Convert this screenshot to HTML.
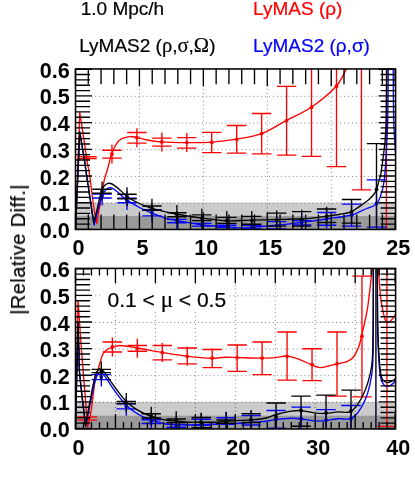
<!DOCTYPE html>
<html><head><meta charset="utf-8"><title>chart</title>
<style>
html,body{margin:0;padding:0;background:#fff;}
svg{display:block;}
text{font-family:"Liberation Sans",sans-serif;fill:#000;}
.ax{font-size:21.6px;font-weight:bold;}
.lg{font-size:19px;stroke:#000;stroke-width:0.22px;}
.sy{font-family:"Liberation Serif",serif;font-size:20.6px;}
.yl{font-size:20px;letter-spacing:0.45px;stroke:#000;stroke-width:0.22px;}
</style></head><body>
<svg width="415" height="480" viewBox="0 0 415 480">
<rect width="415" height="480" fill="#fff"/>
<clipPath id="c1"><rect x="75.50" y="68.95" width="320.10" height="160.50"/></clipPath><rect x="75.50" y="202.70" width="320.10" height="26.75" fill="#cbcbcb"/><rect x="75.50" y="216.10" width="320.10" height="13.35" fill="#9a9a9a"/><path d="M139.43 69.20 V229.40 M203.36 69.20 V229.40 M267.29 69.20 V229.40 M331.22 69.20 V229.40 M75.50 203.10 H395.15 M75.50 176.40 H395.15 M75.50 149.70 H395.15 M75.50 123.00 H395.15 M75.50 96.30 H395.15" stroke="#000" stroke-width="0.75" stroke-dasharray="0.9 3.05" fill="none" opacity="0.7"/>
<g clip-path="url(#c1)">
<path d="M75.50 229.60 C76.92 190.57 78.33 151.54 79.75 112.51 C80.33 116.18 80.94 119.86 81.50 123.54 C83.56 137.15 85.44 150.79 87.60 164.39 C87.94 166.50 88.69 168.54 89.00 170.65 C90.83 183.32 92.13 196.08 94.00 208.75 C94.73 213.69 95.87 218.57 96.80 223.48 C97.53 219.24 98.27 215.00 99.00 210.75 C100.80 200.31 102.30 189.80 104.40 179.42 C105.00 176.43 106.26 173.59 107.10 170.65 C108.76 164.82 109.88 158.80 111.90 153.11 C113.15 149.61 114.81 146.10 116.90 143.08 C118.14 141.29 119.96 139.64 121.90 138.67 C124.33 137.46 127.27 136.79 130.00 136.57 C132.27 136.39 134.63 137.01 136.90 137.47 C140.26 138.15 143.52 139.36 146.90 139.98 C151.64 140.83 156.44 141.57 161.25 141.88 C169.72 142.44 178.25 142.55 186.75 142.58 C195.08 142.62 203.45 142.67 211.75 142.08 C220.03 141.50 228.32 140.48 236.50 139.07 C244.90 137.63 253.58 136.51 261.50 133.56 C270.16 130.33 278.01 124.89 286.25 120.53 C294.59 116.12 303.51 112.56 311.25 107.24 C320.18 101.11 328.95 94.09 336.25 86.19 C340.62 81.47 343.13 75.11 346.25 69.40 C348.38 65.50 350.08 61.38 352.00 57.37" stroke="#f00" stroke-width="1.35" fill="none" stroke-linejoin="round"/>
<path d="M77.30 156.62 H96.70 M77.30 158.52 H96.70 M111.95 144.51 V163.51 M102.25 150.20 H121.65 M102.25 158.12 H121.65 M136.90 128.17 V147.17 M127.20 132.46 H146.60 M127.20 143.08 H146.60 M161.85 132.38 V151.38 M152.15 138.07 H171.55 M152.15 146.09 H171.55 M186.80 133.08 V152.08 M177.10 137.57 H196.50 M177.10 148.10 H196.50 M211.75 132.31 V152.61 M202.05 132.31 H221.45 M202.05 152.61 H221.45 M236.70 125.54 V153.11 M227.00 125.54 H246.40 M227.00 153.11 H246.40 M261.65 113.51 V153.86 M251.95 113.51 H271.35 M251.95 153.86 H271.35 M286.60 86.44 V155.11 M276.90 86.44 H296.30 M276.90 155.11 H296.30 M311.55 30.30 V156.37 M301.85 30.30 H321.25 M301.85 156.37 H321.25 M336.50 20.28 V166.64 M326.80 20.28 H346.20 M326.80 166.64 H346.20 M361.45 -49.90 V189.80 M351.75 -49.90 H371.15 M351.75 189.80 H371.15 M386.40 -100.02 V401.23 M376.70 -100.02 H396.10 M376.70 401.23 H396.10" stroke="#f00" stroke-width="1.35" fill="none"/><circle cx="87.00" cy="157.52" r="1.9" fill="#f00"/><circle cx="111.95" cy="154.01" r="1.9" fill="#f00"/><circle cx="136.90" cy="137.67" r="1.9" fill="#f00"/><circle cx="161.85" cy="141.88" r="1.9" fill="#f00"/><circle cx="186.80" cy="142.58" r="1.9" fill="#f00"/><circle cx="211.75" cy="142.33" r="1.9" fill="#f00"/><circle cx="236.70" cy="139.32" r="1.9" fill="#f00"/><circle cx="261.65" cy="133.56" r="1.9" fill="#f00"/><circle cx="286.60" cy="120.53" r="1.9" fill="#f00"/><circle cx="311.55" cy="107.24" r="1.9" fill="#f00"/><circle cx="336.50" cy="86.19" r="1.9" fill="#f00"/><circle cx="361.45" cy="50.35" r="1.9" fill="#f00"/><circle cx="386.40" cy="20.28" r="1.9" fill="#f00"/>
<path d="M75.50 229.60 C76.92 197.00 78.33 164.40 79.75 131.81 C81.53 142.67 83.38 153.52 85.10 164.39 C85.43 166.47 85.59 168.57 85.90 170.65 C88.59 188.80 91.37 206.94 94.10 225.09 C95.23 220.64 96.31 216.18 97.50 211.76 C98.94 206.39 100.02 200.84 102.00 195.72 C102.86 193.49 104.33 191.32 106.00 189.70 C107.08 188.65 108.85 187.56 110.25 187.70 C112.18 187.89 114.26 189.44 116.00 190.70 C118.85 192.78 121.32 195.40 124.00 197.72 C125.07 198.64 126.06 199.68 127.25 200.43 C131.39 203.02 135.65 205.50 140.00 207.75 C143.80 209.71 147.74 211.42 151.70 213.06 C156.08 214.87 160.47 216.73 165.00 218.07 C168.91 219.23 172.98 219.84 177.00 220.58 C185.32 222.11 193.62 223.85 202.00 224.89 C210.28 225.92 218.68 226.01 227.00 226.79 C229.68 227.05 232.31 227.94 235.00 228.00 C240.65 228.11 246.34 227.66 252.00 227.29 C260.24 226.76 268.48 226.12 276.70 225.29 C285.05 224.45 293.37 223.28 301.70 222.28 C305.13 221.87 308.57 221.54 312.00 221.08 C316.84 220.43 321.67 219.69 326.50 218.97 C334.67 217.76 342.89 216.72 351.00 215.26 C352.39 215.02 353.70 214.41 355.00 213.86 C359.20 212.07 363.31 210.06 367.50 208.25 C369.56 207.35 371.82 206.83 373.75 205.74 C375.15 204.96 376.61 203.94 377.50 202.63 C378.89 200.60 379.75 198.09 380.60 195.72 C381.62 192.86 382.49 189.91 383.10 186.94 C383.87 183.23 384.43 179.45 384.75 175.67 C385.60 165.66 386.06 155.62 386.60 145.59 C387.05 137.24 387.52 128.89 387.70 120.53 C388.07 103.49 388.10 86.44 388.25 69.40 C388.33 59.71 388.35 50.02 388.40 40.33" stroke="#00f" stroke-width="1.35" fill="none" stroke-linejoin="round"/>
<path d="M392.80 40.33 C392.93 50.02 393.09 59.71 393.20 69.40 C393.40 86.44 393.35 103.49 393.75 120.53 C393.95 128.89 394.53 137.24 395.00 145.59 C395.28 150.61 395.67 155.62 396.00 160.63" stroke="#00f" stroke-width="1.35" fill="none" stroke-linejoin="round"/>
<path d="M102.05 186.52 V205.52 M92.35 194.01 H111.75 M92.35 197.97 H111.75 M127.00 190.93 V209.93 M117.30 198.22 H136.70 M117.30 202.73 H136.70 M151.95 203.26 V222.26 M142.25 209.75 H161.65 M142.25 215.87 H161.65 M176.90 211.28 V230.28 M167.20 219.37 H186.60 M167.20 222.78 H186.60 M201.85 215.29 V234.29 M192.15 223.38 H211.55 M192.15 226.19 H211.55 M226.80 216.89 V235.89 M217.10 225.29 H236.50 M217.10 227.49 H236.50 M251.75 217.69 V236.69 M242.05 225.39 H261.45 M242.05 229.00 H261.45 M276.70 215.79 V234.79 M267.00 221.58 H286.40 M267.00 229.00 H286.40 M301.65 213.28 V232.28 M291.95 220.58 H311.35 M291.95 224.99 H311.35 M326.60 209.37 V228.37 M316.90 212.51 H336.30 M316.90 225.29 H336.30 M351.55 204.14 V226.19 M341.85 204.14 H361.25 M341.85 226.19 H361.25 M376.50 179.88 V227.09 M366.80 179.88 H386.20 M366.80 227.09 H386.20" stroke="#00f" stroke-width="1.35" fill="none"/><circle cx="102.05" cy="196.02" r="1.9" fill="#00f"/><circle cx="127.00" cy="200.43" r="1.9" fill="#00f"/><circle cx="151.95" cy="212.76" r="1.9" fill="#00f"/><circle cx="176.90" cy="220.78" r="1.9" fill="#00f"/><circle cx="201.85" cy="224.79" r="1.9" fill="#00f"/><circle cx="226.80" cy="226.39" r="1.9" fill="#00f"/><circle cx="251.75" cy="227.19" r="1.9" fill="#00f"/><circle cx="276.70" cy="225.29" r="1.9" fill="#00f"/><circle cx="301.65" cy="222.78" r="1.9" fill="#00f"/><circle cx="326.60" cy="218.87" r="1.9" fill="#00f"/><circle cx="351.55" cy="215.16" r="1.9" fill="#00f"/><circle cx="376.50" cy="203.33" r="1.9" fill="#00f"/>
<path d="M75.50 229.60 C76.92 197.00 78.33 164.40 79.75 131.81 C81.53 142.67 83.38 153.52 85.10 164.39 C85.43 166.47 85.59 168.57 85.90 170.65 C88.46 188.04 91.10 205.41 93.70 222.78 C94.80 218.44 95.92 214.10 97.00 209.75 C98.68 202.99 99.79 195.96 102.00 189.45 C102.62 187.61 104.04 185.88 105.50 184.69 C106.54 183.83 108.20 183.12 109.50 183.28 C111.37 183.52 113.37 184.72 115.00 185.89 C118.20 188.19 121.06 191.04 124.00 193.71 C125.14 194.75 125.95 196.21 127.25 197.02 C131.28 199.55 135.65 201.72 140.00 203.74 C143.80 205.50 147.68 207.20 151.70 208.35 C160.01 210.71 168.50 212.62 177.00 214.26 C185.27 215.86 193.64 216.98 202.00 218.07 C210.31 219.15 218.64 220.44 227.00 220.78 C235.31 221.11 243.67 220.26 252.00 220.08 C260.23 219.89 268.47 219.89 276.70 219.68 C285.04 219.46 293.37 219.15 301.70 218.77 C305.14 218.62 308.58 218.42 312.00 218.07 C316.84 217.58 321.67 216.92 326.50 216.27 C331.01 215.65 335.52 215.04 340.00 214.26 C343.69 213.62 347.48 213.12 351.00 212.01 C352.48 211.54 353.70 210.39 355.00 209.50 C359.20 206.63 363.54 203.90 367.50 200.73 C369.79 198.89 371.93 196.75 373.75 194.46 C374.93 192.99 375.83 191.22 376.50 189.45 C377.72 186.21 378.41 182.76 379.40 179.42 C379.77 178.16 380.40 176.96 380.60 175.67 C382.20 165.02 383.73 154.31 384.80 143.59 C385.56 135.93 385.89 128.22 386.10 120.53 C386.56 103.49 386.63 86.44 386.80 69.40 C386.90 59.71 386.87 50.02 386.90 40.33" stroke="#000" stroke-width="1.35" fill="none" stroke-linejoin="round"/>
<path d="M102.05 181.60 V200.60 M92.35 189.20 H111.75 M92.35 193.21 H111.75 M127.00 187.22 V206.22 M117.30 194.21 H136.70 M117.30 198.72 H136.70 M151.95 198.75 V217.75 M142.25 206.04 H161.65 M142.25 210.25 H161.65 M176.90 204.96 V223.96 M167.20 212.76 H186.60 M167.20 216.77 H186.60 M201.85 208.67 V227.67 M192.15 214.86 H211.55 M192.15 220.58 H211.55 M226.80 211.08 V230.08 M217.10 217.37 H236.50 M217.10 223.38 H236.50 M251.75 211.08 V230.08 M242.05 216.37 H261.45 M242.05 224.29 H261.45 M276.70 210.48 V229.48 M267.00 213.16 H286.40 M267.00 226.19 H286.40 M301.65 209.77 V228.77 M291.95 211.66 H311.35 M291.95 226.19 H311.35 M326.60 206.77 V225.77 M316.90 209.00 H336.30 M316.90 222.53 H336.30 M351.55 199.47 V223.18 M341.85 199.47 H361.25 M341.85 223.18 H361.25 M376.50 143.59 V260.88 M366.80 143.59 H386.20 M366.80 260.88 H386.20" stroke="#000" stroke-width="1.35" fill="none"/><circle cx="102.05" cy="191.10" r="1.9" fill="#000"/><circle cx="127.00" cy="196.72" r="1.9" fill="#000"/><circle cx="151.95" cy="208.25" r="1.9" fill="#000"/><circle cx="176.90" cy="214.46" r="1.9" fill="#000"/><circle cx="201.85" cy="218.17" r="1.9" fill="#000"/><circle cx="226.80" cy="220.58" r="1.9" fill="#000"/><circle cx="251.75" cy="220.58" r="1.9" fill="#000"/><circle cx="276.70" cy="219.98" r="1.9" fill="#000"/><circle cx="301.65" cy="219.27" r="1.9" fill="#000"/><circle cx="326.60" cy="216.27" r="1.9" fill="#000"/><circle cx="351.55" cy="212.01" r="1.9" fill="#000"/><circle cx="376.50" cy="189.45" r="1.9" fill="#000"/>
</g>
<path d="M75.50 229.45 V212.40 M75.50 68.95 V86.20 M88.29 229.45 V214.40 M88.29 68.95 V84.20 M101.07 229.45 V214.40 M101.07 68.95 V84.20 M113.86 229.45 V214.40 M113.86 68.95 V84.20 M126.64 229.45 V214.40 M126.64 68.95 V84.20 M139.43 229.45 V212.40 M139.43 68.95 V86.20 M152.22 229.45 V214.40 M152.22 68.95 V84.20 M165.00 229.45 V214.40 M165.00 68.95 V84.20 M177.79 229.45 V214.40 M177.79 68.95 V84.20 M190.57 229.45 V214.40 M190.57 68.95 V84.20 M203.36 229.45 V212.40 M203.36 68.95 V86.20 M216.15 229.45 V214.40 M216.15 68.95 V84.20 M228.93 229.45 V214.40 M228.93 68.95 V84.20 M241.72 229.45 V214.40 M241.72 68.95 V84.20 M254.50 229.45 V214.40 M254.50 68.95 V84.20 M267.29 229.45 V212.40 M267.29 68.95 V86.20 M280.08 229.45 V214.40 M280.08 68.95 V84.20 M292.86 229.45 V214.40 M292.86 68.95 V84.20 M305.65 229.45 V214.40 M305.65 68.95 V84.20 M318.43 229.45 V214.40 M318.43 68.95 V84.20 M331.22 229.45 V212.40 M331.22 68.95 V86.20 M344.01 229.45 V214.40 M344.01 68.95 V84.20 M356.79 229.45 V214.40 M356.79 68.95 V84.20 M369.58 229.45 V214.40 M369.58 68.95 V84.20 M382.36 229.45 V214.40 M382.36 68.95 V84.20 M395.15 229.45 V212.40 M395.15 68.95 V86.20" stroke="#000" stroke-width="1.35" fill="none"/><path d="M75.50 229.40 H92.00 M395.60 229.40 H378.65 M75.50 224.06 H90.10 M395.60 224.06 H380.55 M75.50 218.72 H90.10 M395.60 218.72 H380.55 M75.50 213.38 H90.10 M395.60 213.38 H380.55 M75.50 208.04 H90.10 M395.60 208.04 H380.55 M75.50 202.70 H92.00 M395.60 202.70 H378.65 M75.50 197.36 H90.10 M395.60 197.36 H380.55 M75.50 192.02 H90.10 M395.60 192.02 H380.55 M75.50 186.68 H90.10 M395.60 186.68 H380.55 M75.50 181.34 H90.10 M395.60 181.34 H380.55 M75.50 176.00 H92.00 M395.60 176.00 H378.65 M75.50 170.66 H90.10 M395.60 170.66 H380.55 M75.50 165.32 H90.10 M395.60 165.32 H380.55 M75.50 159.98 H90.10 M395.60 159.98 H380.55 M75.50 154.64 H90.10 M395.60 154.64 H380.55 M75.50 149.30 H92.00 M395.60 149.30 H378.65 M75.50 143.96 H90.10 M395.60 143.96 H380.55 M75.50 138.62 H90.10 M395.60 138.62 H380.55 M75.50 133.28 H90.10 M395.60 133.28 H380.55 M75.50 127.94 H90.10 M395.60 127.94 H380.55 M75.50 122.60 H92.00 M395.60 122.60 H378.65 M75.50 117.26 H90.10 M395.60 117.26 H380.55 M75.50 111.92 H90.10 M395.60 111.92 H380.55 M75.50 106.58 H90.10 M395.60 106.58 H380.55 M75.50 101.24 H90.10 M395.60 101.24 H380.55 M75.50 95.90 H92.00 M395.60 95.90 H378.65 M75.50 90.56 H90.10 M395.60 90.56 H380.55 M75.50 85.22 H90.10 M395.60 85.22 H380.55 M75.50 79.88 H90.10 M395.60 79.88 H380.55 M75.50 74.54 H90.10 M395.60 74.54 H380.55 M75.50 69.20 H92.00 M395.60 69.20 H378.65" stroke="#000" stroke-width="1.35" fill="none"/><rect x="75.50" y="68.95" width="320.10" height="160.50" fill="none" stroke="#000" stroke-width="1.55"/>
<clipPath id="c2"><rect x="75.50" y="268.40" width="320.10" height="160.55"/></clipPath><rect x="75.50" y="401.88" width="320.10" height="27.07" fill="#cbcbcb"/><rect x="75.50" y="415.69" width="320.10" height="13.26" fill="#9a9a9a"/><path d="M115.46 268.80 V428.50 M155.41 268.80 V428.50 M195.37 268.80 V428.50 M235.32 268.80 V428.50 M275.28 268.80 V428.50 M315.24 268.80 V428.50 M355.19 268.80 V428.50 M75.50 402.28 H395.15 M75.50 375.67 H395.15 M75.50 349.05 H395.15 M75.50 322.43 H395.15 M75.50 295.82 H395.15" stroke="#000" stroke-width="0.75" stroke-dasharray="0.9 3.05" fill="none" opacity="0.7"/>
<rect x="101" y="285" width="128" height="26" fill="#fff"/>
<g clip-path="url(#c2)">
<path d="M75.50 428.55 C76.33 385.86 77.17 343.18 78.00 300.49 C79.13 316.58 80.22 332.68 81.40 348.78 C81.97 356.55 82.64 364.32 83.25 372.09 C84.70 390.48 86.15 408.86 87.60 427.25 C88.65 422.65 90.00 418.11 90.75 413.46 C92.47 402.73 93.32 391.84 95.00 381.12 C95.40 378.56 96.28 376.09 97.00 373.60 C98.78 367.40 100.12 360.94 102.50 355.04 C103.29 353.09 104.91 351.39 106.50 350.03 C107.83 348.89 109.57 348.08 111.25 347.52 C114.07 346.58 117.05 345.46 120.00 345.52 C125.80 345.63 131.69 347.06 137.50 348.02 C145.85 349.40 154.15 351.15 162.50 352.54 C170.81 353.91 179.13 355.33 187.50 356.30 C195.63 357.24 203.83 358.04 212.00 358.25 C216.33 358.36 220.66 357.37 225.00 357.25 C228.99 357.14 233.00 357.46 237.00 357.55 C245.33 357.73 253.67 358.05 262.00 358.05 C266.33 358.05 270.68 357.90 275.00 357.55 C279.01 357.23 283.06 355.73 287.00 356.05 C291.39 356.40 295.79 358.04 300.00 359.56 C304.13 361.05 307.92 363.44 312.00 365.07 C314.59 366.11 317.29 367.50 320.00 367.58 C323.29 367.67 326.68 366.31 330.00 365.57 C332.35 365.05 334.66 364.37 337.00 363.82 C340.33 363.03 343.87 362.79 347.00 361.56 C349.20 360.70 351.52 359.36 353.00 357.55 C355.35 354.68 357.10 351.04 358.50 347.52 C359.93 343.93 360.62 340.03 361.50 336.24 C363.54 327.49 365.76 318.76 367.25 309.92 C368.93 299.96 369.77 289.86 371.00 279.83 C371.45 276.16 371.99 272.49 372.30 268.80 C372.83 262.46 373.10 256.10 373.50 249.75" stroke="#f00" stroke-width="1.35" fill="none" stroke-linejoin="round"/>
<path d="M377.90 249.75 C378.10 256.18 378.15 262.62 378.50 269.05 C378.98 277.92 379.47 286.80 380.40 295.63 C380.94 300.76 381.90 305.86 382.90 310.92 C383.43 313.63 384.09 316.35 385.00 318.94 C385.45 320.23 386.06 322.08 387.00 322.55 C387.73 322.92 389.19 322.09 390.00 321.45 C391.35 320.38 392.45 318.86 393.50 317.44 C394.79 315.69 395.83 313.76 397.00 311.92" stroke="#f00" stroke-width="1.35" fill="none" stroke-linejoin="round"/>
<path d="M77.70 416.82 H97.10 M77.70 420.13 H97.10 M112.36 337.52 V356.52 M102.66 342.01 H122.06 M102.66 352.03 H122.06 M137.32 338.82 V357.82 M127.62 345.52 H147.02 M127.62 351.28 H147.02 M162.28 343.04 V362.04 M152.58 345.52 H171.98 M152.58 359.81 H171.98 M187.24 346.80 V365.80 M177.54 348.02 H196.94 M177.54 363.82 H196.94 M212.20 348.55 V367.58 M202.50 349.53 H221.90 M202.50 367.58 H221.90 M237.16 345.01 V371.34 M227.46 345.01 H246.86 M227.46 371.34 H246.86 M262.12 342.01 V374.60 M252.42 342.01 H271.82 M252.42 374.60 H271.82 M287.08 331.98 V380.11 M277.38 331.98 H296.78 M277.38 380.11 H296.78 M312.04 348.78 V380.61 M302.34 348.78 H321.74 M302.34 380.61 H321.74 M337.00 331.98 V396.16 M327.30 331.98 H346.70 M327.30 396.16 H346.70 M361.96 276.12 V396.81 M352.26 276.12 H371.66 M352.26 396.81 H371.66 M386.92 199.60 V426.44 M377.22 199.60 H396.62 M377.22 426.44 H396.62" stroke="#f00" stroke-width="1.35" fill="none"/><circle cx="87.40" cy="418.47" r="1.9" fill="#f00"/><circle cx="112.36" cy="347.02" r="1.9" fill="#f00"/><circle cx="137.32" cy="348.32" r="1.9" fill="#f00"/><circle cx="162.28" cy="352.54" r="1.9" fill="#f00"/><circle cx="187.24" cy="356.30" r="1.9" fill="#f00"/><circle cx="212.20" cy="358.05" r="1.9" fill="#f00"/><circle cx="237.16" cy="357.55" r="1.9" fill="#f00"/><circle cx="262.12" cy="358.05" r="1.9" fill="#f00"/><circle cx="287.08" cy="356.30" r="1.9" fill="#f00"/><circle cx="312.04" cy="364.57" r="1.9" fill="#f00"/><circle cx="337.00" cy="363.82" r="1.9" fill="#f00"/><circle cx="361.96" cy="336.24" r="1.9" fill="#f00"/><circle cx="386.92" cy="229.69" r="1.9" fill="#f00"/>
<path d="M75.50 428.55 C76.33 393.35 77.17 358.15 78.00 322.95 C78.30 331.56 78.64 340.17 78.90 348.78 C79.14 356.55 78.82 364.35 79.50 372.09 C81.09 390.24 83.63 408.33 85.70 426.44 C87.43 417.69 89.09 408.91 90.90 400.17 C92.29 393.47 93.51 386.69 95.30 380.11 C95.88 378.00 96.80 375.83 98.00 374.10 C98.53 373.33 99.69 372.46 100.50 372.59 C101.69 372.79 103.11 373.99 104.00 375.10 C107.11 379.00 109.50 383.58 112.50 387.63 C116.92 393.61 121.05 399.97 126.25 405.18 C130.22 409.16 135.13 412.39 140.00 415.21 C143.63 417.31 147.77 418.54 151.75 419.93 C155.90 421.38 160.10 422.90 164.40 423.74 C168.22 424.48 172.19 424.43 176.10 424.64 C180.39 424.87 184.70 425.04 189.00 425.04 C193.00 425.04 197.00 424.78 201.00 424.64 C206.67 424.44 212.33 424.17 218.00 424.04 C220.67 423.97 223.34 424.16 226.00 424.04 C234.34 423.66 242.67 423.11 251.00 422.53 C256.14 422.18 261.29 421.86 266.40 421.23 C269.69 420.82 272.91 419.82 276.20 419.42 C281.21 418.82 286.26 418.36 291.30 418.22 C294.53 418.13 297.79 418.35 301.00 418.72 C305.92 419.29 310.78 420.65 315.70 421.03 C319.11 421.29 322.59 420.98 326.00 420.63 C330.12 420.21 334.18 419.03 338.30 418.72 C342.18 418.43 346.48 419.90 350.00 418.82 C352.94 417.92 355.71 415.31 357.70 412.81 C360.78 408.93 363.21 404.27 365.20 399.67 C367.28 394.84 368.77 389.67 369.90 384.53 C371.23 378.47 372.22 372.27 372.60 366.07 C373.34 354.08 373.15 342.01 373.25 329.97 C373.42 309.58 373.34 289.19 373.40 268.80 C373.42 262.45 373.47 256.10 373.50 249.75" stroke="#00f" stroke-width="1.35" fill="none" stroke-linejoin="round"/>
<path d="M377.20 249.75 C377.23 256.10 377.26 262.45 377.30 268.80 C377.44 289.86 377.37 310.92 377.75 331.98 C377.93 342.01 378.34 352.05 379.00 362.06 C379.35 367.43 379.69 372.90 380.80 378.11 C381.29 380.42 382.36 382.90 383.80 384.63 C384.67 385.67 386.44 386.43 387.75 386.43 C389.01 386.43 390.35 385.39 391.50 384.63 C392.77 383.78 393.83 382.61 395.00 381.62 C395.99 380.77 397.00 379.95 398.00 379.11" stroke="#00f" stroke-width="1.35" fill="none" stroke-linejoin="round"/>
<path d="M101.30 367.60 V386.60 M91.60 374.60 H111.00 M91.60 379.61 H111.00 M126.27 396.69 V415.69 M116.57 403.78 H135.97 M116.57 408.94 H135.97 M151.24 411.73 V430.73 M141.54 419.72 H160.94 M141.54 423.54 H160.94 M176.21 416.34 V435.34 M166.51 424.44 H185.91 M166.51 427.25 H185.91 M201.18 412.93 V431.93 M191.48 419.22 H210.88 M191.48 425.44 H210.88 M226.15 411.73 V430.73 M216.45 417.72 H235.85 M216.45 424.44 H235.85 M251.12 410.93 V429.93 M241.42 415.61 H260.82 M241.42 425.04 H260.82 M276.09 409.92 V428.92 M266.39 410.50 H285.79 M266.39 428.25 H285.79 M301.06 407.19 V440.28 M291.36 407.19 H310.76 M291.36 440.28 H310.76 M326.03 409.60 V440.28 M316.33 409.60 H335.73 M316.33 440.28 H335.73 M351.00 405.48 V440.28 M341.30 405.48 H360.70 M341.30 440.28 H360.70" stroke="#00f" stroke-width="1.35" fill="none"/><circle cx="101.30" cy="377.10" r="1.9" fill="#00f"/><circle cx="126.27" cy="406.19" r="1.9" fill="#00f"/><circle cx="151.24" cy="421.23" r="1.9" fill="#00f"/><circle cx="176.21" cy="425.84" r="1.9" fill="#00f"/><circle cx="201.18" cy="422.43" r="1.9" fill="#00f"/><circle cx="226.15" cy="421.23" r="1.9" fill="#00f"/><circle cx="251.12" cy="420.43" r="1.9" fill="#00f"/><circle cx="276.09" cy="419.42" r="1.9" fill="#00f"/><circle cx="301.06" cy="418.72" r="1.9" fill="#00f"/><circle cx="326.03" cy="420.23" r="1.9" fill="#00f"/><circle cx="351.00" cy="418.62" r="1.9" fill="#00f"/>
<path d="M375.9 260V435" stroke="#00f" stroke-width="1.4" fill="none" opacity="0.5"/>
<path d="M75.50 428.55 C76.33 393.35 77.17 358.15 78.00 322.95 C78.30 331.56 78.64 340.17 78.90 348.78 C79.14 356.55 78.84 364.35 79.50 372.09 C81.04 390.09 83.50 408.03 85.50 425.99 C87.25 416.38 88.91 406.76 90.75 397.16 C92.11 390.04 93.32 382.85 95.10 375.85 C95.57 373.99 96.43 372.12 97.50 370.59 C98.06 369.78 99.15 368.76 100.00 368.83 C101.15 368.93 102.62 370.03 103.50 371.09 C106.79 375.05 109.37 379.71 112.50 383.87 C116.96 389.82 121.05 396.21 126.25 401.42 C130.22 405.40 135.14 408.60 140.00 411.45 C143.64 413.59 147.74 415.02 151.75 416.42 C155.88 417.85 160.11 419.15 164.40 419.93 C168.23 420.62 172.21 420.46 176.10 420.83 C180.41 421.23 184.69 421.99 189.00 422.23 C192.99 422.46 197.00 422.25 201.00 422.23 C206.67 422.21 212.34 422.36 218.00 422.13 C220.68 422.02 223.32 421.41 226.00 421.23 C234.32 420.67 242.69 420.59 251.00 419.93 C256.15 419.52 261.38 419.12 266.40 418.02 C269.78 417.28 272.89 415.47 276.20 414.41 C277.92 413.86 279.73 413.58 281.50 413.21 C284.76 412.51 288.00 411.64 291.30 411.20 C294.50 410.77 297.79 410.35 301.00 410.60 C305.92 410.98 310.77 412.55 315.70 413.11 C319.11 413.49 322.58 413.59 326.00 413.41 C330.11 413.19 334.19 412.18 338.30 411.90 C342.19 411.64 346.62 413.11 350.00 411.80 C353.09 410.61 355.68 407.26 357.70 404.38 C360.74 400.04 363.15 395.07 365.20 390.14 C367.21 385.31 368.70 380.20 369.90 375.10 C371.06 370.17 372.00 365.12 372.30 360.06 C373.10 346.73 373.04 333.32 373.20 319.94 C373.41 302.90 373.33 285.85 373.40 268.80 C373.43 262.45 373.47 256.10 373.50 249.75" stroke="#000" stroke-width="1.35" fill="none" stroke-linejoin="round"/>
<path d="M377.20 249.75 C377.23 256.10 377.25 262.45 377.30 268.80 C377.45 289.19 377.35 309.59 377.80 329.97 C378.02 340.01 378.55 350.05 379.30 360.06 C379.70 365.43 380.09 370.92 381.25 376.10 C381.66 377.94 382.73 379.84 384.00 381.12 C384.90 382.02 386.49 382.59 387.75 382.62 C388.99 382.65 390.33 381.91 391.50 381.32 C392.75 380.68 393.90 379.79 395.00 378.91 C396.07 378.06 397.00 377.04 398.00 376.10" stroke="#000" stroke-width="1.35" fill="none" stroke-linejoin="round"/>
<path d="M101.30 361.59 V380.59 M91.60 369.33 H111.00 M91.60 372.69 H111.00 M126.27 392.93 V411.93 M116.57 401.37 H135.97 M116.57 403.48 H135.97 M151.24 406.72 V425.72 M141.54 413.71 H160.94 M141.54 418.02 H160.94 M176.21 411.13 V430.13 M166.51 418.97 H185.91 M166.51 422.53 H185.91 M201.18 412.73 V431.73 M191.48 417.47 H210.88 M191.48 427.75 H210.88 M226.15 411.93 V430.93 M216.45 420.03 H235.85 M216.45 423.23 H235.85 M251.12 409.92 V428.92 M241.42 413.71 H260.82 M241.42 422.53 H260.82 M276.09 402.98 V440.28 M266.39 402.98 H285.79 M266.39 440.28 H285.79 M301.06 396.16 V426.24 M291.36 396.16 H310.76 M291.36 426.24 H310.76 M326.03 395.16 V440.28 M316.33 395.16 H335.73 M316.33 440.28 H335.73 M351.00 390.14 V440.28 M341.30 390.14 H360.70 M341.30 440.28 H360.70" stroke="#000" stroke-width="1.35" fill="none"/><circle cx="101.30" cy="371.09" r="1.9" fill="#000"/><circle cx="126.27" cy="402.43" r="1.9" fill="#000"/><circle cx="151.24" cy="416.22" r="1.9" fill="#000"/><circle cx="176.21" cy="420.63" r="1.9" fill="#000"/><circle cx="201.18" cy="422.23" r="1.9" fill="#000"/><circle cx="226.15" cy="421.43" r="1.9" fill="#000"/><circle cx="251.12" cy="419.42" r="1.9" fill="#000"/><circle cx="276.09" cy="416.52" r="1.9" fill="#000"/><circle cx="301.06" cy="410.50" r="1.9" fill="#000"/><circle cx="326.03" cy="412.91" r="1.9" fill="#000"/><circle cx="351.00" cy="410.90" r="1.9" fill="#000"/>
<path d="M375.9 260V435" stroke="#000" stroke-width="1.15" fill="none"/>
</g>
<path d="M75.50 428.95 V414.00 M75.50 268.40 V283.30 M83.49 428.95 V421.90 M83.49 268.40 V275.40 M91.48 428.95 V421.90 M91.48 268.40 V275.40 M99.47 428.95 V421.90 M99.47 268.40 V275.40 M107.47 428.95 V421.90 M107.47 268.40 V275.40 M115.46 428.95 V414.00 M115.46 268.40 V283.30 M123.45 428.95 V421.90 M123.45 268.40 V275.40 M131.44 428.95 V421.90 M131.44 268.40 V275.40 M139.43 428.95 V421.90 M139.43 268.40 V275.40 M147.42 428.95 V421.90 M147.42 268.40 V275.40 M155.41 428.95 V414.00 M155.41 268.40 V283.30 M163.40 428.95 V421.90 M163.40 268.40 V275.40 M171.39 428.95 V421.90 M171.39 268.40 V275.40 M179.39 428.95 V421.90 M179.39 268.40 V275.40 M187.38 428.95 V421.90 M187.38 268.40 V275.40 M195.37 428.95 V414.00 M195.37 268.40 V283.30 M203.36 428.95 V421.90 M203.36 268.40 V275.40 M211.35 428.95 V421.90 M211.35 268.40 V275.40 M219.34 428.95 V421.90 M219.34 268.40 V275.40 M227.33 428.95 V421.90 M227.33 268.40 V275.40 M235.32 428.95 V414.00 M235.32 268.40 V283.30 M243.32 428.95 V421.90 M243.32 268.40 V275.40 M251.31 428.95 V421.90 M251.31 268.40 V275.40 M259.30 428.95 V421.90 M259.30 268.40 V275.40 M267.29 428.95 V421.90 M267.29 268.40 V275.40 M275.28 428.95 V414.00 M275.28 268.40 V283.30 M283.27 428.95 V421.90 M283.27 268.40 V275.40 M291.26 428.95 V421.90 M291.26 268.40 V275.40 M299.25 428.95 V421.90 M299.25 268.40 V275.40 M307.25 428.95 V421.90 M307.25 268.40 V275.40 M315.24 428.95 V414.00 M315.24 268.40 V283.30 M323.23 428.95 V421.90 M323.23 268.40 V275.40 M331.22 428.95 V421.90 M331.22 268.40 V275.40 M339.21 428.95 V421.90 M339.21 268.40 V275.40 M347.20 428.95 V421.90 M347.20 268.40 V275.40 M355.19 428.95 V414.00 M355.19 268.40 V283.30 M363.18 428.95 V421.90 M363.18 268.40 V275.40 M371.18 428.95 V421.90 M371.18 268.40 V275.40 M379.17 428.95 V421.90 M379.17 268.40 V275.40 M387.16 428.95 V421.90 M387.16 268.40 V275.40 M395.15 428.95 V414.00 M395.15 268.40 V283.30" stroke="#000" stroke-width="1.35" fill="none"/><path d="M75.50 428.50 H92.00 M395.60 428.50 H378.65 M75.50 423.18 H90.10 M395.60 423.18 H380.55 M75.50 417.85 H90.10 M395.60 417.85 H380.55 M75.50 412.53 H90.10 M395.60 412.53 H380.55 M75.50 407.21 H90.10 M395.60 407.21 H380.55 M75.50 401.88 H92.00 M395.60 401.88 H378.65 M75.50 396.56 H90.10 M395.60 396.56 H380.55 M75.50 391.24 H90.10 M395.60 391.24 H380.55 M75.50 385.91 H90.10 M395.60 385.91 H380.55 M75.50 380.59 H90.10 M395.60 380.59 H380.55 M75.50 375.27 H92.00 M395.60 375.27 H378.65 M75.50 369.94 H90.10 M395.60 369.94 H380.55 M75.50 364.62 H90.10 M395.60 364.62 H380.55 M75.50 359.30 H90.10 M395.60 359.30 H380.55 M75.50 353.97 H90.10 M395.60 353.97 H380.55 M75.50 348.65 H92.00 M395.60 348.65 H378.65 M75.50 343.33 H90.10 M395.60 343.33 H380.55 M75.50 338.00 H90.10 M395.60 338.00 H380.55 M75.50 332.68 H90.10 M395.60 332.68 H380.55 M75.50 327.36 H90.10 M395.60 327.36 H380.55 M75.50 322.03 H92.00 M395.60 322.03 H378.65 M75.50 316.71 H90.10 M395.60 316.71 H380.55 M75.50 311.39 H90.10 M395.60 311.39 H380.55 M75.50 306.06 H90.10 M395.60 306.06 H380.55 M75.50 300.74 H90.10 M395.60 300.74 H380.55 M75.50 295.42 H92.00 M395.60 295.42 H378.65 M75.50 290.09 H90.10 M395.60 290.09 H380.55 M75.50 284.77 H90.10 M395.60 284.77 H380.55 M75.50 279.45 H90.10 M395.60 279.45 H380.55 M75.50 274.12 H90.10 M395.60 274.12 H380.55 M75.50 268.80 H92.00 M395.60 268.80 H378.65" stroke="#000" stroke-width="1.35" fill="none"/><rect x="75.50" y="268.40" width="320.10" height="160.55" fill="none" stroke="#000" stroke-width="1.55"/>
<g style="opacity:0.999">
<text x="69.9" y="237.96" text-anchor="end" class="ax">0.0</text>
<text x="69.9" y="211.26" text-anchor="end" class="ax">0.1</text>
<text x="69.9" y="184.56" text-anchor="end" class="ax">0.2</text>
<text x="69.9" y="157.86" text-anchor="end" class="ax">0.3</text>
<text x="69.9" y="131.16" text-anchor="end" class="ax">0.4</text>
<text x="69.9" y="104.46" text-anchor="end" class="ax">0.5</text>
<text x="69.9" y="77.76" text-anchor="end" class="ax">0.6</text>
<text x="69.9" y="437.06" text-anchor="end" class="ax">0.0</text>
<text x="69.9" y="410.44" text-anchor="end" class="ax">0.1</text>
<text x="69.9" y="383.83" text-anchor="end" class="ax">0.2</text>
<text x="69.9" y="357.21" text-anchor="end" class="ax">0.3</text>
<text x="69.9" y="330.59" text-anchor="end" class="ax">0.4</text>
<text x="69.9" y="303.98" text-anchor="end" class="ax">0.5</text>
<text x="69.9" y="277.36" text-anchor="end" class="ax">0.6</text>
<text x="78.50" y="254.95" text-anchor="middle" class="ax">0</text>
<text x="142.43" y="254.95" text-anchor="middle" class="ax">5</text>
<text x="206.36" y="254.95" text-anchor="middle" class="ax">10</text>
<text x="270.29" y="254.95" text-anchor="middle" class="ax">15</text>
<text x="334.22" y="254.95" text-anchor="middle" class="ax">20</text>
<text x="398.15" y="254.95" text-anchor="middle" class="ax">25</text>
<text x="78.50" y="454.6" text-anchor="middle" class="ax">0</text>
<text x="158.41" y="454.6" text-anchor="middle" class="ax">10</text>
<text x="238.32" y="454.6" text-anchor="middle" class="ax">20</text>
<text x="318.24" y="454.6" text-anchor="middle" class="ax">30</text>
<text x="398.15" y="454.6" text-anchor="middle" class="ax">40</text>
<text x="80.7" y="15.3" class="lg">1.0 Mpc/h</text>
<text x="79.2" y="51.5" class="lg">LyMAS2 (<tspan class="sy">ρ</tspan>,<tspan class="sy">σ</tspan>,<tspan class="sy">Ω</tspan>)</text>
<text x="253.1" y="15.3" class="lg" style="fill:#f00;stroke:#f00">LyMAS (ρ)</text>
<text x="253.1" y="51.5" class="lg" style="fill:#00f;stroke:#00f">LyMAS2 (ρ,σ)</text>
<text x="107.5" y="307" class="lg" style="font-size:21px">0.1 &lt; <tspan class="sy" style="font-size:23px">μ</tspan> &lt; 0.5</text>
<text transform="translate(25,249.5) rotate(-90)" text-anchor="middle" class="yl">|Relative Diff.|</text>
</g>
</svg>
</body></html>
